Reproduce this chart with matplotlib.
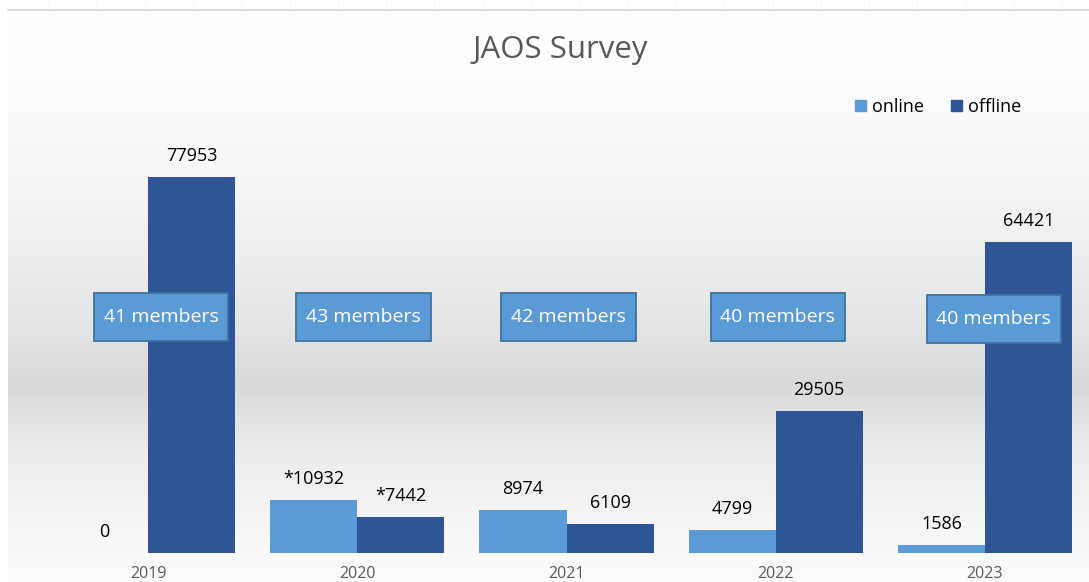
import numpy as np
import matplotlib
matplotlib.use("Agg")
import matplotlib.pyplot as plt
from matplotlib.colors import LinearSegmentedColormap
from matplotlib.patches import Patch
from matplotlib.path import Path
import matplotlib.transforms as mtransforms

years = ["2019", "2020", "2021", "2022", "2023"]
online = [0, 10932, 8974, 4799, 1586]
offline = [77953, 7442, 6109, 29505, 64421]
online_labels = ["0", "*10932", "8974", "4799", "1586"]
offline_labels = ["77953", "*7442", "6109", "29505", "64421"]
members = ["41 members", "43 members", "42 members", "40 members", "40 members"]

FONT = ["Open Sans", "DejaVu Sans"]
plt.rcParams["font.family"] = FONT

W, H = 1089, 582
fig = plt.figure(figsize=(W / 100, H / 100), dpi=100)

# background gradient
bg = fig.add_axes([0, 0, 1, 1])
bg.set_xlim(0, W)
bg.set_ylim(H, 0)
bg.axis("off")
stops = [(0.0, "#ffffff"), (45 / H, "#fefefe"), (150 / H, "#f8f8f8"), (250 / H, "#eeeeee"),
         (320 / H, "#e5e5e5"), (380 / H, "#d9d9d9"), (450 / H, "#ececec"),
         (520 / H, "#f5f5f5"), (1.0, "#fcfcfc")]
cmap = LinearSegmentedColormap.from_list("g", stops)
grad = np.linspace(0, 1, 600).reshape(-1, 1)
bg.imshow(grad, cmap=cmap, extent=[8, W, H, 12], aspect="auto", vmin=0, vmax=1)
bg.plot([8, W], [10, 10], color="#d4d4d4", lw=1.2)
for xt in np.arange(48, W, 48.3):
    bg.plot([xt, xt], [0, 9], color="#f6f6f6", lw=0.5)

# main axes
x0, x1 = 43.5, 1089.5
base = 553
scale = 376 / 77953
ytop = 90000
ax = fig.add_axes([x0 / W, (H - base) / H, (x1 - x0) / W, ytop * scale / H])
ax.set_facecolor("none")
x = np.arange(len(years))
bw = 0.416
c_on, c_off = "#5b9bd5", "#2f5597"
ax.bar(x - bw / 2, online, bw, color=c_on, label="online", zorder=2)
ax.bar(x + bw / 2, offline, bw, color=c_off, label="offline", zorder=2)
ax.set_xlim(-0.5, len(years) - 0.5)
ax.set_ylim(0, ytop)
for s in ax.spines.values():
    s.set_visible(False)
ax.set_yticks([])
ax.set_xticks(x)
ax.set_xticklabels(years, fontsize=11.5, color="#595959")
ax.tick_params(axis="x", length=0, pad=9)

for xi, v, lab in zip(x, online, online_labels):
    ax.annotate(lab, (xi - bw / 2, v), xytext=(0, 21), textcoords="offset pixels",
                ha="center", va="center", fontsize=13, color="#000000")
for xi, v, lab in zip(x, offline, offline_labels):
    ax.annotate(lab, (xi + bw / 2, v), xytext=(0, 21), textcoords="offset pixels",
                ha="center", va="center", fontsize=13, color="#000000")


def rect_box(x0_, y0_, w_, h_, mutation_size):
    px = 0.5 * mutation_size
    py = 0.78 * mutation_size
    xa, ya = x0_ - px, y0_ - py
    xb, yb_ = x0_ + w_ + px, y0_ + h_ + py
    return Path([(xa, ya), (xb, ya), (xb, yb_), (xa, yb_), (xa, ya)], closed=True)


trans = mtransforms.blended_transform_factory(ax.transData, ax.transAxes)
offs = [0.062, 0.03, 0.01, 0.01, 0.043]
yb = [0.5437, 0.5437, 0.5437, 0.5437, 0.539]
for xi, m, o, yy in zip(x, members, offs, yb):
    ax.text(xi + o, yy, m, transform=trans, ha="center", va="center", fontsize=14,
            color="white", zorder=5,
            bbox=dict(boxstyle=rect_box, fc="#5b9bd5", ec="#41719c", lw=1.3))

fig.text(560 / W, 1 - 50 / H, "JAOS Survey", ha="center", va="center", fontsize=22.5,
         color="#595959")
fig.legend(handles=[Patch(color=c_on, label="online"), Patch(color=c_off, label="offline")],
           loc="center", bbox_to_anchor=(938 / W, 1 - 107 / H), ncol=2, frameon=False,
           fontsize=13, handlelength=0.6, handleheight=0.6, handletextpad=0.35,
           columnspacing=1.5)

fig.savefig("out.png", dpi=100)
